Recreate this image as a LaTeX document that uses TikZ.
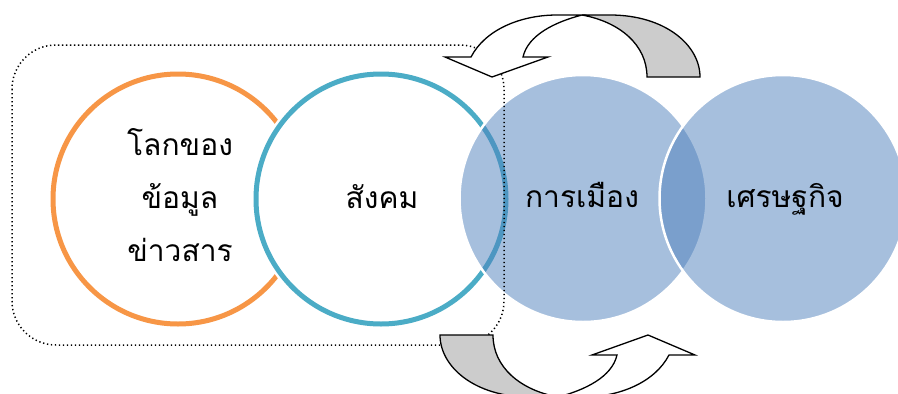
\documentclass[tikz,border=0pt]{standalone}
\usepackage{fontspec}
\newfontfamily\thaifont[Script=Thai]{Loma}
\definecolor{orangec}{HTML}{F79646}
\definecolor{tealc}{HTML}{4BACC6}
\definecolor{bluec}{HTML}{4F81BD}
\definecolor{greyc}{HTML}{CCCCCC}
\begin{document}
\begin{tikzpicture}[x=1pt,y=-1pt,
  ringorange/.style={circle, inner sep=0pt, minimum size=250pt, draw=orangec, line width=5pt, fill=white},
  ringteal/.style={circle, inner sep=0pt, minimum size=250pt, draw=tealc, line width=5pt, fill=white,
     preaction={draw=white, line width=10pt}},
  discblue/.style={circle, inner sep=0pt, minimum size=247pt, fill=bluec, fill opacity=0.5, draw=white, line width=2.5pt},
  label/.style={font=\thaifont\fontsize{30}{53}\selectfont, text=black, inner sep=0pt, align=center},
  arrowfront/.style={draw=black, fill=white, line width=1.3pt, line join=miter},
  arrowback/.style={draw=black, fill=greyc, line width=1.3pt, line join=miter},
  groupbox/.style={draw=black, line width=1.5pt, dash pattern=on 1.3pt off 2.7pt, rounded corners=44pt}
]
\useasboundingbox (0,0) rectangle (898,394);
\fill[white] (0,0) rectangle (898,394);

\node[ringorange] (world) at (178,199) {};
\node[ringteal] (society) at (381,199) {};
\node[discblue] (politics) at (583,198.5) {};
\node[discblue] (economy) at (783,198.5) {};

\node[label, anchor=center] (tworld) at (180,195) {โลกของ\\ข้อมูล\\ข่าวสาร};
\node[label, anchor=base] (tsociety) at (382,208) {สังคม};
\node[label, anchor=base] (tpolitics) at (582,207) {การเมือง};
\node[label, anchor=base] (teconomy) at (785,207) {เศรษฐกิจ};

\draw[groupbox] (12,45) rectangle (504,345);

% top curved arrow
\coordinate (topc) at (570,206);
\draw[arrowback] (582,15) -- (610,15) .. controls (665,15) and (700,45) .. (700,77)
  -- (647,77) .. controls (647,45) and (620,22) .. (582,15) -- cycle;
\draw[arrowfront] (445,57) -- (471,57) .. controls (485,30) and (520,15) .. (557,15) -- (582,15)
  .. controls (555,22) and (528,35) .. (523,57) -- (548,57) -- (492,77) -- cycle;

% bottom curved arrow (point reflection of the top one)
\begin{scope}[rotate around={180:(topc)}]
\draw[arrowback] (582,15) -- (610,15) .. controls (665,15) and (700,45) .. (700,77)
  -- (647,77) .. controls (647,45) and (620,22) .. (582,15) -- cycle;
\draw[arrowfront] (445,57) -- (471,57) .. controls (485,30) and (520,15) .. (557,15) -- (582,15)
  .. controls (555,22) and (528,35) .. (523,57) -- (548,57) -- (492,77) -- cycle;
\end{scope}
\end{tikzpicture}
\end{document}
